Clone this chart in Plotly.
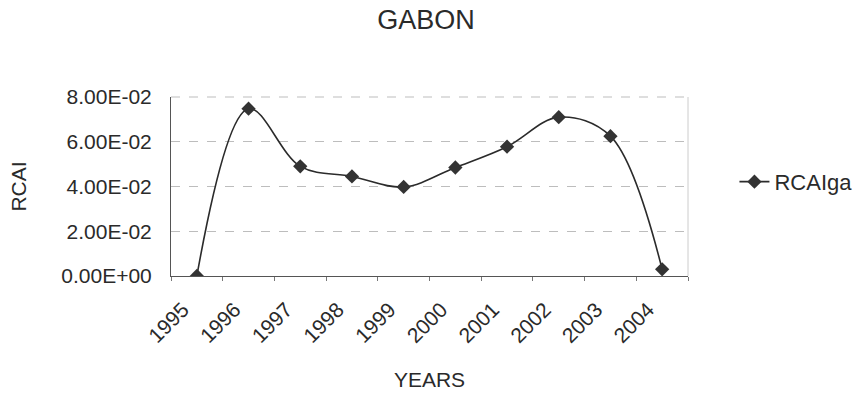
import plotly.graph_objects as go

years = ["1995", "1996", "1997", "1998", "1999", "2000", "2001", "2002", "2003", "2004"]
rcai = [0.0, 0.0748, 0.0490, 0.0445, 0.0398, 0.0485, 0.0578, 0.0710, 0.0625, 0.0030]
ytick_vals = [0.0, 0.02, 0.04, 0.06, 0.08]
ytick_text = ["0.00E+00", "2.00E-02", "4.00E-02", "6.00E-02", "8.00E-02"]

font_family = "Liberation Sans, Arial, sans-serif"

fig = go.Figure()
fig.add_trace(go.Scatter(
    x=years, y=rcai, name="RCAIga", mode="lines+markers",
    line=dict(color="#2b2b2b", width=1.6, shape="spline", smoothing=1.0),
    marker=dict(symbol="diamond", size=11, color="#333333"),
))

fig.update_layout(
    width=857, height=397,
    margin=dict(l=171, r=169, t=97, b=121, autoexpand=False),
    paper_bgcolor="white", plot_bgcolor="white",
    font=dict(family=font_family, color="#2a2a2a"),
    title=dict(text="GABON", x=0.497, xanchor="center", y=0.95, yanchor="middle",
               font=dict(size=27, family=font_family, color="#2a2a2a")),
    showlegend=True,
    legend=dict(xref="container", yref="container", x=0.857, y=0.542,
                xanchor="left", yanchor="middle",
                font=dict(size=22, family=font_family, color="#2a2a2a"),
                bgcolor="rgba(0,0,0,0)"),
    xaxis=dict(
        type="category", range=[-0.5, 9.5], automargin=False,
        tickangle=-45, tickfont=dict(size=21),
        showgrid=False, showline=True, linecolor="#555555", linewidth=1,
        ticks="outside", ticklen=4, tickcolor="#777777", tickson="boundaries",
        ticklabelstandoff=12, ticklabelshift=-14,
        title=dict(text="YEARS", font=dict(size=21), standoff=26),
    ),
    yaxis=dict(
        range=[0, 0.08], tickvals=ytick_vals, ticktext=ytick_text, automargin=False,
        tickfont=dict(size=21), ticks="",
        ticklabelstandoff=14,
        showgrid=True, gridcolor="#bdbdbd", griddash="dash", gridwidth=1,
        showline=True, linecolor="#555555", linewidth=1,
        zeroline=False,
        title=dict(text="RCAI", font=dict(size=21), standoff=28),
    ),
)
fig.add_shape(type="line", xref="paper", yref="paper", x0=1, x1=1, y0=0, y1=1,
              line=dict(color="#cccccc", width=1))
fig.add_shape(type="line", xref="paper", yref="paper", x0=0, x1=1, y0=1, y1=1,
              line=dict(color="#bdbdbd", width=1, dash="dash"))

fig.write_html("out.html")
